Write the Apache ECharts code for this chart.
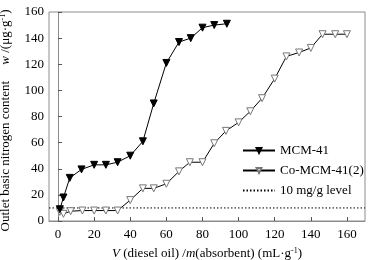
<!DOCTYPE html>
<html>
<head>
<meta charset="utf-8">
<script src="https://cdn.jsdelivr.net/npm/echarts@6/dist/echarts.min.js"></script>
<style>
  html, body { margin: 0; padding: 0; background: #fff; }
  #chart { width: 376px; height: 260px; }
</style>
</head>
<body>
<div id="chart"></div>
<script>
  // MCM-41
  let mcmX = [1, 3, 6.5, 13, 20, 26.5, 33, 40, 47, 53, 60, 67, 73.5, 80, 86.5, 93.5]
  let mcmY = [9, 18, 33, 39.5, 43, 43, 45, 50, 61, 90, 121, 137, 140, 148, 150, 151]
  // Co-MCM-41(2)
  let coX = [1, 3, 7, 13.5, 20, 26.5, 33, 40, 47, 53, 60, 67, 73, 80, 86.5, 93, 100, 106.5, 113, 120, 126.5, 133.5, 140, 146.5, 153.5, 160]
  let coY = [7, 5.5, 7.5, 8, 8, 8, 8, 16, 25, 25, 28.5, 38, 45, 45, 59.5, 69, 75.5, 84, 94, 109, 126, 129, 132.5, 143, 143, 143]
  let levelX = [-5, 170]
  let levelY = [10, 10]
  let xTicks = [0, 20, 40, 60, 80, 100, 120, 140, 160]

  let font = '"Liberation Serif", "Times New Roman", serif'

  function pairs(xs, ys) {
    return xs.map(function (x, i) { return [x, ys[i]] })
  }

  let nameRich = {
    i: { fontStyle: 'italic', fontFamily: font, fontSize: 13 },
    sup: { fontSize: 8, fontFamily: font, verticalAlign: 'top', padding: [0, 0, 6, 0] }
  }

  let chart = echarts.init(document.getElementById('chart'))
  chart.setOption({
    animation: false,
    textStyle: { fontFamily: font, color: '#000' },
    grid: {
      left: 49,
      right: 11,
      top: 12,
      bottom: 39,
      outerBoundsMode: 'none',
      show: true,
      borderColor: '#8c8c8c',
      borderWidth: 1
    },
    legend: {
      orient: 'vertical',
      left: 237,
      top: 139,
      itemWidth: 32,
      itemHeight: 6,
      itemGap: 7,
      textStyle: { fontFamily: font, fontSize: 13, color: '#000' },
      data: [
        'MCM-41',
        'Co-MCM-41(2)',
        { name: '10 mg/g level', itemStyle: { opacity: 0 }, textStyle: { padding: [8, 0, 0, 0] } }
      ]
    },
    xAxis: {
      type: 'value',
      min: -5,
      max: 170,
      splitLine: { show: false },
      axisLine: { lineStyle: { color: '#8c8c8c' } },
      axisTick: { inside: true, length: 4, customValues: xTicks, lineStyle: { color: '#555' } },
      axisLabel: { customValues: xTicks, fontSize: 13, color: '#000', fontFamily: font, margin: 7 },
      name: '{i|V} (diesel oil) /{i|m}(absorbent) (mL·g{sup|-1})',
      nameLocation: 'middle',
      nameGap: 26,
      nameTextStyle: { fontFamily: font, fontSize: 13, color: '#000', rich: nameRich }
    },
    yAxis: {
      type: 'value',
      min: 0,
      max: 160,
      interval: 20,
      splitLine: { show: false },
      axisLine: { show: true, lineStyle: { color: '#8c8c8c' } },
      axisTick: { show: true, inside: true, length: 4, lineStyle: { color: '#555' } },
      axisLabel: { fontSize: 13, color: '#000', fontFamily: font, margin: 5 },
      name: 'Outlet basic nitrogen content     {i|w} /(μg·g{sup|-1})',
      nameLocation: 'middle',
      nameRotate: 90,
      nameGap: 36,
      nameTextStyle: { fontFamily: font, fontSize: 13, color: '#000', rich: nameRich, padding: [0, 0, 0, -8] }
    },
    series: [
      {
        name: 'MCM-41',
        type: 'line',
        data: pairs(mcmX, mcmY),
        symbol: 'triangle',
        symbolRotate: 180,
        symbolSize: 7,
        lineStyle: { color: '#000', width: 1 },
        itemStyle: { color: '#000', borderColor: '#000', borderWidth: 1 },
        z: 4
      },
      {
        name: 'Co-MCM-41(2)',
        type: 'line',
        data: pairs(coX, coY),
        symbol: 'triangle',
        symbolRotate: 180,
        symbolSize: 7,
        lineStyle: { color: '#000', width: 1 },
        itemStyle: { color: '#fff', borderColor: '#777', borderWidth: 1 },
        z: 3
      },
      {
        name: '10 mg/g level',
        type: 'line',
        data: pairs(levelX, levelY),
        symbol: 'none',
        lineStyle: { color: '#000', width: 1, type: [1.5, 2] },
        itemStyle: { color: '#000' },
        z: 2
      }
    ]
  })
</script>
</body>
</html>
